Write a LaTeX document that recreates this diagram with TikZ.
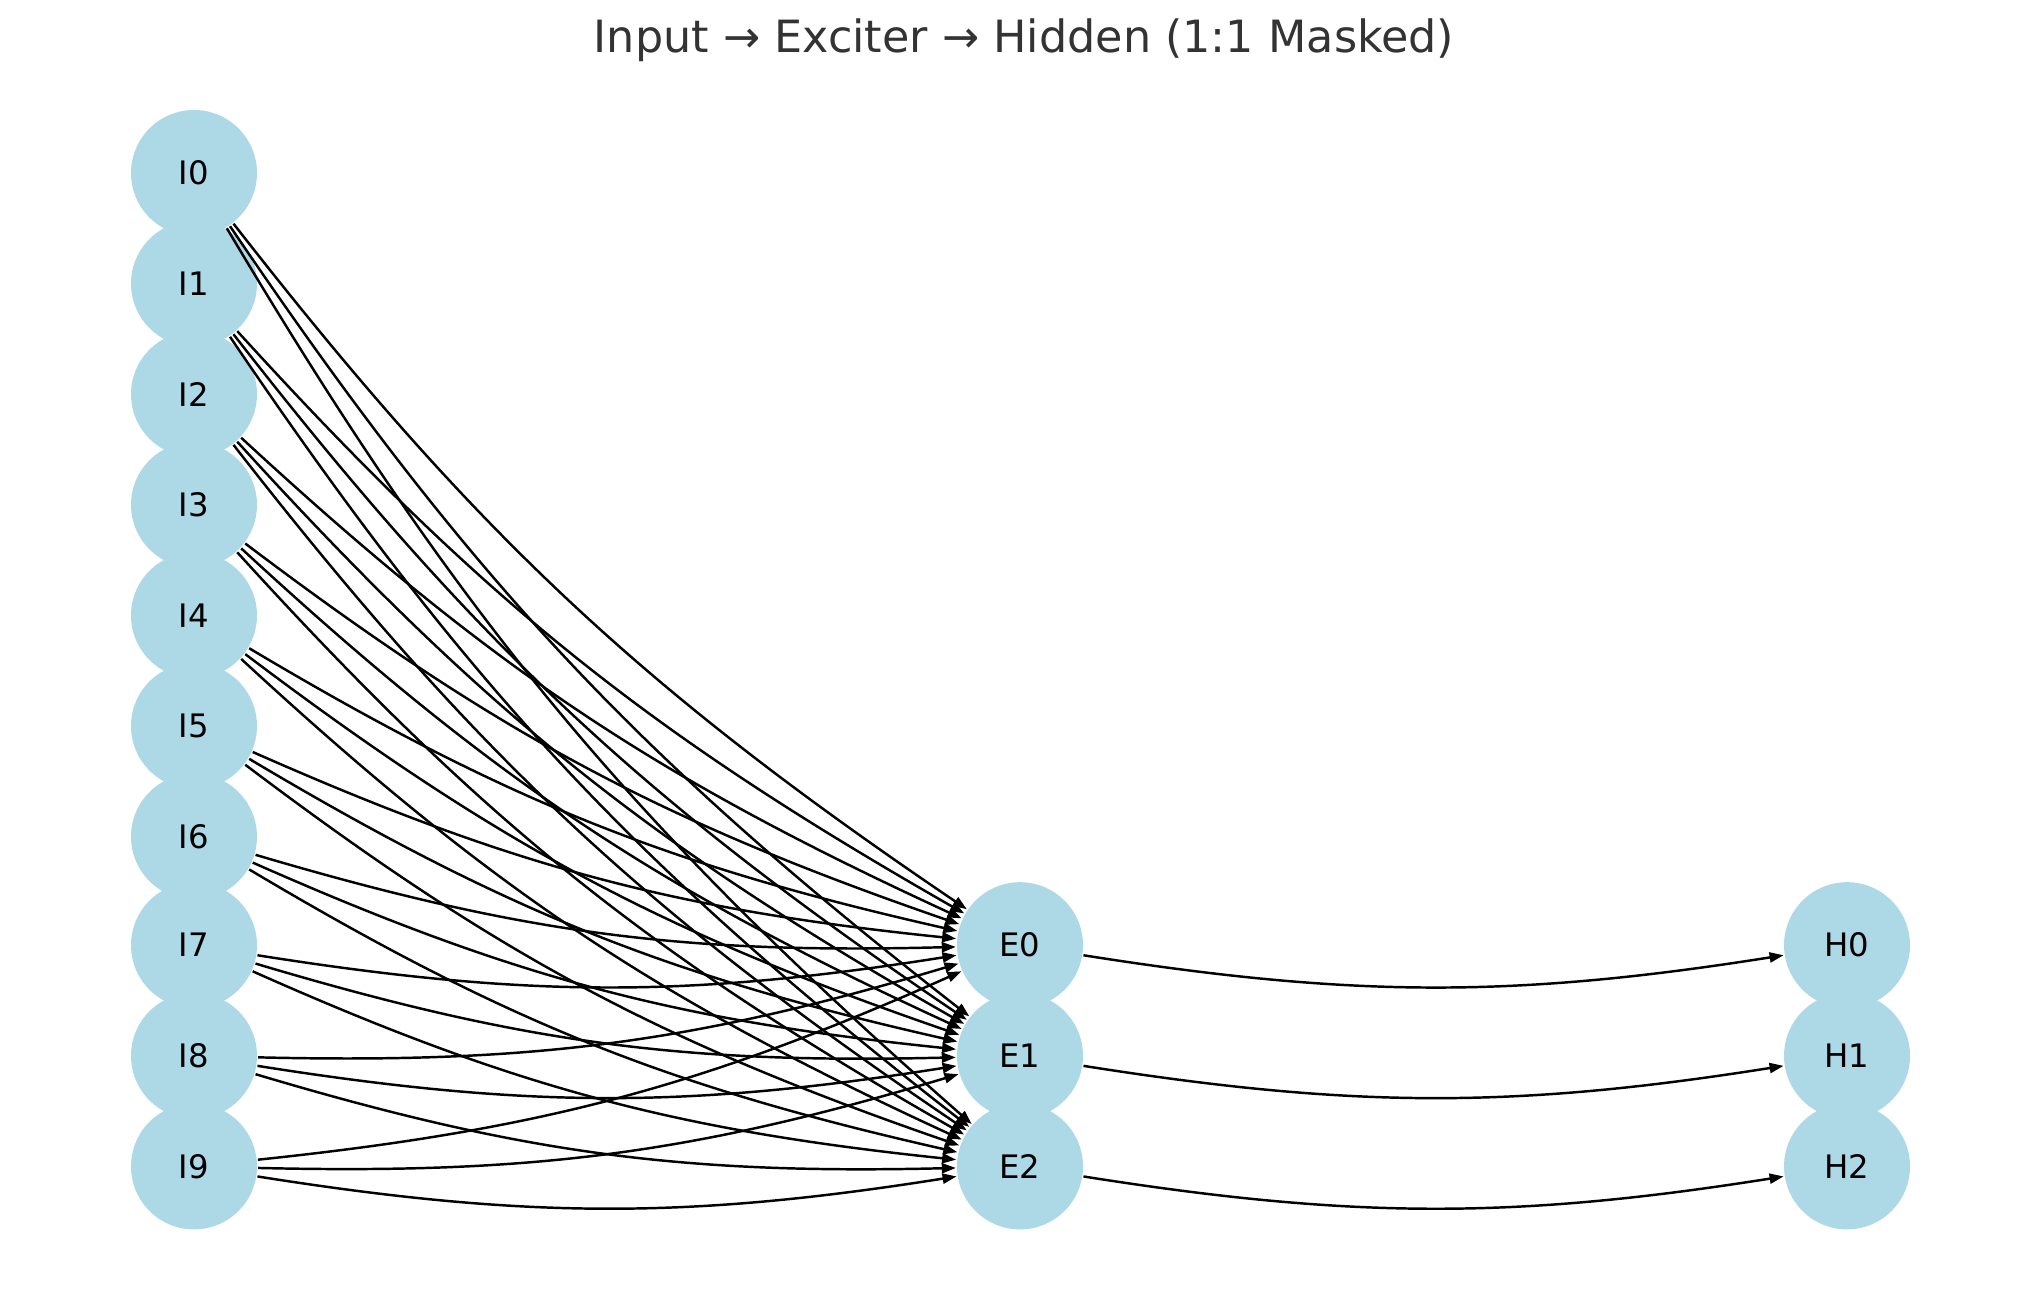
\documentclass[tikz,border=0pt]{standalone}
\usepackage{fontspec}
\setmainfont{DejaVu Sans}
\usepackage{tikz}
\usetikzlibrary{arrows.meta}

\definecolor{nodeblue}{RGB}{173,216,230}
\definecolor{titlegray}{RGB}{51,51,51}

\begin{document}
\begin{tikzpicture}[->, >={Triangle[length=1.4mm, width=1.0mm]}, line width=0.7pt, bend right=9, neuron/.style={circle, fill=nodeblue, draw=none, inner sep=0pt, minimum size=12.6mm, font=\fontsize{9.2}{11}\selectfont}]
		\useasboundingbox (0, 0) rectangle (20.39, 12.90);
		
		\node[anchor=base, text=titlegray, font=\fontsize{12.65}{15}\selectfont] (title) at (10.24, 12.373) {Input → Exciter → Hidden (1:1 Masked)};
		
		\node[neuron] (I0) at (1.94, 11.170) {I0};
		\node[neuron] (I1) at (1.94, 10.064) {I1};
		\node[neuron] (I2) at (1.94, 8.958) {I2};
		\node[neuron] (I3) at (1.94, 7.852) {I3};
		\node[neuron] (I4) at (1.94, 6.746) {I4};
		\node[neuron] (I5) at (1.94, 5.640) {I5};
		\node[neuron] (I6) at (1.94, 4.534) {I6};
		\node[neuron] (I7) at (1.94, 3.448) {I7};
		\node[neuron] (I8) at (1.94, 2.342) {I8};
		\node[neuron] (I9) at (1.94, 1.236) {I9};
		
		\node[neuron] (E0) at (10.20, 3.448) {E0};
		\node[neuron] (E1) at (10.20, 2.342) {E1};
		\node[neuron] (E2) at (10.20, 1.236) {E2};
		
		\node[neuron] (H0) at (18.47, 3.448) {H0};
		\node[neuron] (H1) at (18.47, 2.342) {H1};
		\node[neuron] (H2) at (18.47, 1.236) {H2};
		
		\path (I0) edge (E0) edge (E1) edge (E2)
			(I1) edge (E0) edge (E1) edge (E2)
			(I2) edge (E0) edge (E1) edge (E2)
			(I3) edge (E0) edge (E1) edge (E2)
			(I4) edge (E0) edge (E1) edge (E2)
			(I5) edge (E0) edge (E1) edge (E2)
			(I6) edge (E0) edge (E1) edge (E2)
			(I7) edge (E0) edge (E1) edge (E2)
			(I8) edge (E0) edge (E1) edge (E2)
			(I9) edge (E0) edge (E1) edge (E2);
		
		\path (E0) edge (H0)
			(E1) edge (H1)
			(E2) edge (H2);
	\end{tikzpicture}
\end{document}
